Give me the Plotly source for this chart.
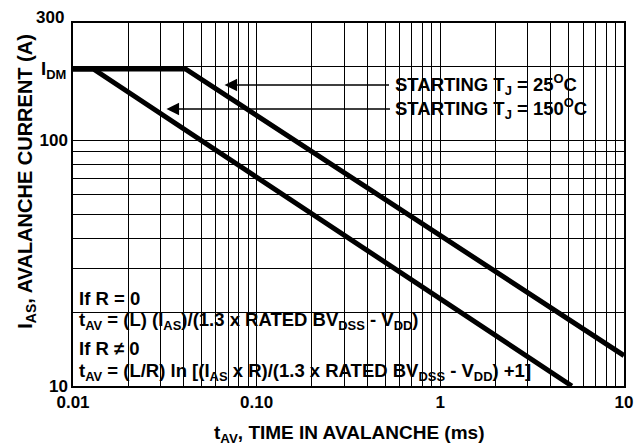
import math
import plotly.graph_objects as go

# ---- data ----
tj25_time = [0.01, 0.041, 10.0]
tj25_current = [195, 195, 13.3]
tj150_time = [0.01, 0.0129, 5.2]
tj150_current = [195, 195, 10.0]

x_grid_vals = [0.01, 0.02, 0.03, 0.04, 0.05, 0.06, 0.07, 0.08, 0.09,
               0.1, 0.2, 0.3, 0.4, 0.5, 0.6, 0.7, 0.8, 0.9,
               1, 2, 3, 4, 5, 6, 7, 8, 9, 10]
x_tick_labels = {0.01: "0.01", 0.1: "0.10", 1: "1", 10: "10"}
y_grid_vals = [10, 20, 30, 40, 50, 60, 70, 80, 90, 100, 200, 300]
y_tick_labels = {10: "10", 100: "100", 300: "300"}

FONT = "Liberation Sans"
W, H = 643, 445
ML, MR, MT, MB = 73, 10, 23, 59
PW, PH = W - ML - MR, H - MT - MB


def px(xp):
    return (xp - ML) / PW


def py(yp):
    return (H - MB - yp) / PH


fig = go.Figure()
for t, c in [(tj25_time, tj25_current), (tj150_time, tj150_current)]:
    fig.add_trace(go.Scatter(x=t, y=c, mode="lines",
                             line=dict(color="black", width=5),
                             showlegend=False, hoverinfo="skip"))

tf = dict(family=FONT, size=17, color="black", weight="bold")

# top tick label (300) sits slightly above the frame in the reference
y_ticktext = [y_tick_labels.get(v, "") if v != 300 else "" for v in y_grid_vals]

fig.update_layout(
    width=W, height=H,
    margin=dict(l=ML, r=MR, t=MT, b=MB),
    paper_bgcolor="white", plot_bgcolor="white",
    font=dict(family=FONT, color="black"),
    xaxis=dict(type="log", range=[-2, 1],
               tickvals=x_grid_vals,
               ticktext=[x_tick_labels.get(v, "") for v in x_grid_vals],
               tickfont=tf, ticks="", showgrid=True, gridcolor="black",
               gridwidth=1.3, showline=True, linecolor="black",
               linewidth=1.5, mirror=True, zeroline=False),
    yaxis=dict(type="log", range=[1, math.log10(300)],
               tickvals=y_grid_vals, ticktext=y_ticktext,
               tickfont=tf, ticks="", showgrid=True, gridcolor="black",
               gridwidth=1.3, showline=True, linecolor="black",
               linewidth=1.5, mirror=True, zeroline=False),
)

# white boxes that hide the grid behind the texts (drawn under the curves)
for x0, x1, y0, y1 in [(393, 603, 127, 71), (74, 200, 385, 287),
                       (74, 434, 331, 308), (74, 542, 385, 359)]:
    fig.add_shape(type="rect", xref="paper", yref="paper",
                  x0=px(x0), x1=px(x1), y0=py(y0), y1=py(y1),
                  fillcolor="white", line=dict(width=0), layer="between")

lab = dict(family=FONT, size=18.5, color="black", weight="bold")

anns = [
    dict(text=y_tick_labels[300], x=px(66), y=py(17), xanchor="right", font=tf),
    dict(text="I<sub>DM</sub>", x=px(68), y=py(70), xanchor="right"),
    dict(text="STARTING T<sub>J</sub> = 25<sup>O</sup>C", x=px(398), y=py(85), xanchor="left"),
    dict(text="STARTING T<sub>J</sub> = 150<sup>O</sup>C", x=px(398), y=py(109), xanchor="left"),
    dict(text="t<sub>AV</sub>, TIME IN AVALANCHE (ms)", x=0.5, y=py(434), xanchor="center",
         font=dict(family=FONT, size=19, color="black", weight="bold")),
    dict(text="I<sub>AS</sub>, AVALANCHE CURRENT (A)", x=px(26), y=py(181), xanchor="center",
         textangle=-90, font=dict(family=FONT, size=20, color="black", weight="bold")),
]
for a in anns:
    a.setdefault("font", lab)
    fig.add_annotation(xref="paper", yref="paper", yanchor="middle",
                       showarrow=False, **a)

box_lines = [
    ("If R = 0", 298),
    ("t<sub>AV</sub> = (L) (I<sub>AS</sub>)/(1.3 x RATED BV<sub>DSS</sub> - V<sub>DD</sub>)", 321),
    ("If R \u2260 0", 348),
    ("t<sub>AV</sub> = (L/R) ln [(I<sub>AS</sub> x R)/(1.3 x RATED BV<sub>DSS</sub> - V<sub>DD</sub>) +1]", 372),
]
for txt, yp in box_lines:
    fig.add_annotation(xref="paper", yref="paper", x=px(77), y=py(yp),
                       xanchor="left", yanchor="middle", showarrow=False,
                       text=txt, font=dict(family=FONT, size=18.5, color="black", weight="bold"))

# arrows from labels to curves
for head_x, head_y, tail_x in [(227, 85, 393), (168, 109, 393)]:
    fig.add_annotation(xref="paper", yref="paper", x=px(head_x), y=py(head_y),
                       ax=tail_x - head_x, ay=0, text="", showarrow=True,
                       arrowhead=2, arrowsize=1.8, arrowwidth=1.4,
                       arrowcolor="black")

fig.write_html("out.html", config={"displayModeBar": False},
               post_script="document.body.style.margin='0';document.body.style.overflow='hidden';")
